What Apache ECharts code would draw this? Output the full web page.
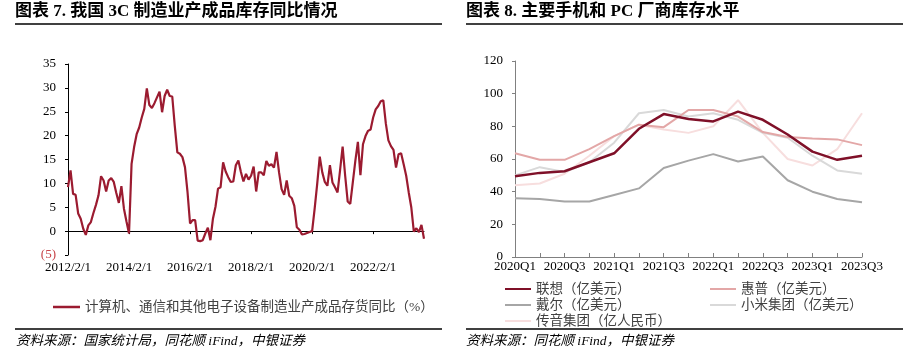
<!DOCTYPE html>
<html><head><meta charset="utf-8">
<script src="https://cdn.jsdelivr.net/npm/echarts@6/dist/echarts.min.js"></script>
<style>html,body{margin:0;padding:0;background:#fff}#c{width:909px;height:357px}</style>
</head><body><div id="c"></div>
<script>
// ---------- Left chart data (monthly, 2012/2 .. 2023/10) ----------
const leftStart = [2012, 2];
const leftCount = 141;
const leftValues = [
 9.2,12.7,7.8,7.6,3.7,2.6,0.5,-0.8,1.2,1.9,3.8,5.5,7.5,11.5,10.6,8.3,10.6,11.1,10.3,8.0,5.9,9.4,4.7,2.0,
 -0.5,14.1,17.6,20.3,21.7,23.8,25.6,29.9,26.4,25.8,26.8,28.0,29.2,24.9,28.3,29.6,28.3,28.2,22.0,16.5,16.2,15.5,13.4,8.2,
 1.6,2.3,2.3,-2.0,-2.1,-1.9,-0.5,0.7,-1.9,2.6,5.1,8.9,9.2,14.4,12.5,11.3,10.3,10.4,13.8,14.8,12.4,10.4,12.0,10.8,
 11.6,13.5,8.3,12.3,12.3,11.7,14.7,13.7,14.0,13.3,16.6,12.3,8.8,7.6,10.6,7.4,6.9,5.3,0.8,0.3,-0.7,-0.6,-0.4,-0.2,
 0.0,4.7,9.9,15.6,12.3,10.3,9.5,13.8,10.2,9.2,8.1,12.8,17.7,11.6,6.2,5.7,10.2,14.7,18.7,11.7,18.2,19.9,21.0,21.3,
 23.8,25.5,26.2,27.2,27.4,22.5,19.0,17.8,17.0,13.3,16.1,16.3,14.0,11.6,8.1,5.0,-0.1,0.6,-0.2,1.3,-1.6
];
const leftSeriesName = '计算机、通信和其他电子设备制造业产成品存货同比（%）';
const leftCategories = [];
for (let i = 0; i < leftCount; i++) {
  const m0 = leftStart[1] - 1 + i;
  leftCategories.push((leftStart[0] + Math.floor(m0 / 12)) + '/' + (m0 % 12 + 1) + '/1');
}

// ---------- Right chart data (quarterly) ----------
const quarters = ['2020Q1','2020Q2','2020Q3','2020Q4','2021Q1','2021Q2','2021Q3','2021Q4',
                  '2022Q1','2022Q2','2022Q3','2022Q4','2023Q1','2023Q2','2023Q3'];
const lenovo    = [49.5,51.5,52.5,58,63.5,78.5,87.5,84.5,83,89,84,75,64.5,59.5,62];
const hp        = [63.5,59.5,59.5,66,74,81,79.5,90,90,86,76.5,73.5,72.5,72,68.5];
const dell      = [36,35.5,34,34,38,42,54.5,59,63,58.5,61.5,47,40,35.5,33.5];
const xiaomi    = [50,55,52,58,70,88,90,86,88,84,76,73,62,53,51];
const transsion = [44,45,51,62,74,81,78,76,80,96,76,60,56,66,88];
const rightNames = ['联想（亿美元）','惠普（亿美元）','戴尔（亿美元）','小米集团（亿美元）','传音集团（亿人民币）'];

const serif = '"Liberation Serif","Times New Roman",serif';
const cjk = '"Liberation Serif","Noto Sans CJK SC",sans-serif';
const chart = echarts.init(document.getElementById('c'), null, {renderer:'canvas'});

const titleFont = 'bold 17px "Liberation Serif","Noto Sans CJK SC",serif';
const srcFont = 'italic 13.5px "Liberation Serif","Noto Sans CJK SC",serif';
const legText = {color:'#404040', fontSize:13.5, fontFamily:cjk, lineHeight:14};

chart.setOption({
  animation:false,
  backgroundColor:'#fff',
  grid:[
    {left:68, right:485, top:64, bottom:102},
    {left:515, right:47, top:61, bottom:100}
  ],
  xAxis:[
    {gridIndex:0, type:'category', data:leftCategories, boundaryGap:false,
     axisLine:{onZero:true, lineStyle:{color:'#000', width:1}},
     axisTick:{show:true, interval:23, length:3, lineStyle:{color:'#000'}},
     axisLabel:{show:false}, splitLine:{show:false}},
    {gridIndex:0, type:'category', data:leftCategories, boundaryGap:false, position:'bottom',
     axisLine:{show:false, onZero:false}, axisTick:{show:false},
     axisLabel:{interval:23, color:'#000', fontFamily:serif, fontSize:13, margin:6}},
    {gridIndex:1, type:'category', data:quarters, boundaryGap:false,
     axisLine:{lineStyle:{color:'#808080', width:1}},
     axisTick:{show:true, interval:0, inside:true, length:4, lineStyle:{color:'#808080'}},
     axisLabel:{interval:1, color:'#000', fontFamily:serif, fontSize:13, margin:3}}
  ],
  yAxis:[
    {gridIndex:0, type:'value', min:-5, max:35, interval:5,
     axisLine:{show:true, lineStyle:{color:'#000'}},
     axisTick:{show:true, length:3, lineStyle:{color:'#000'}},
     splitLine:{show:false},
     axisLabel:{color:'#000', fontFamily:serif, fontSize:13, margin:12,
       formatter:function(v){ return v < 0 ? '{n|(' + (-v) + ')}' : String(v); },
       rich:{n:{color:'#C8454A', fontFamily:serif, fontSize:13}}}},
    {gridIndex:1, type:'value', min:0, max:120, interval:20,
     axisLine:{show:true, lineStyle:{color:'#808080'}},
     axisTick:{show:true, length:3, lineStyle:{color:'#808080'}},
     splitLine:{show:false},
     axisLabel:{color:'#000', fontFamily:serif, fontSize:13, margin:12}}
  ],
  legend:[
    {data:[leftSeriesName], left:48, top:295, icon:'rect', itemWidth:27, itemHeight:2.5, itemGap:4,
     textStyle:legText},
    {data:[rightNames[0], rightNames[2], rightNames[4]], orient:'vertical', left:500, top:277,
     icon:'rect', itemWidth:26, itemHeight:2, itemGap:2, textStyle:legText},
    {data:[rightNames[1], rightNames[3]], orient:'vertical', left:705, top:277,
     icon:'rect', itemWidth:26, itemHeight:2, itemGap:2, textStyle:legText}
  ],
  series:[
    {name:leftSeriesName, type:'line', xAxisIndex:0, yAxisIndex:0, data:leftValues,
     symbol:'none', lineStyle:{color:'#9B1B30', width:2.2}, itemStyle:{color:'#9B1B30'}},
    {name:rightNames[4], type:'line', xAxisIndex:2, yAxisIndex:1, data:transsion,
     symbol:'none', lineStyle:{color:'#F7DEDE', width:2}, itemStyle:{color:'#F7DEDE'}},
    {name:rightNames[3], type:'line', xAxisIndex:2, yAxisIndex:1, data:xiaomi,
     symbol:'none', lineStyle:{color:'#D9D9D9', width:2}, itemStyle:{color:'#D9D9D9'}},
    {name:rightNames[2], type:'line', xAxisIndex:2, yAxisIndex:1, data:dell,
     symbol:'none', lineStyle:{color:'#A6A6A6', width:2}, itemStyle:{color:'#A6A6A6'}},
    {name:rightNames[1], type:'line', xAxisIndex:2, yAxisIndex:1, data:hp,
     symbol:'none', lineStyle:{color:'#E3A7A7', width:2}, itemStyle:{color:'#E3A7A7'}},
    {name:rightNames[0], type:'line', xAxisIndex:2, yAxisIndex:1, data:lenovo,
     symbol:'none', lineStyle:{color:'#7F1028', width:2.5}, itemStyle:{color:'#7F1028'}}
  ],
  graphic:[
    {type:'text', left:15, top:3, style:{text:'图表 7. 我国 3C 制造业产成品库存同比情况', font:titleFont, fill:'#000'}},
    {type:'line', shape:{x1:15, y1:24, x2:442, y2:24}, style:{stroke:'#000', lineWidth:1.5}},
    {type:'line', shape:{x1:15, y1:329, x2:442, y2:329}, style:{stroke:'#000', lineWidth:1.5}},
    {type:'text', left:16, top:335, style:{text:'资料来源：国家统计局，同花顺 iFind，中银证券', font:srcFont, fill:'#000'}},
    {type:'text', left:466, top:3, style:{text:'图表 8. 主要手机和 PC 厂商库存水平', font:titleFont, fill:'#000'}},
    {type:'line', shape:{x1:466, y1:24, x2:903, y2:24}, style:{stroke:'#000', lineWidth:1.5}},
    {type:'line', shape:{x1:466, y1:329, x2:903, y2:329}, style:{stroke:'#000', lineWidth:1.5}},
    {type:'text', left:466, top:335, style:{text:'资料来源：同花顺 iFind，中银证券', font:srcFont, fill:'#000'}}
  ]
});
</script></body></html>
